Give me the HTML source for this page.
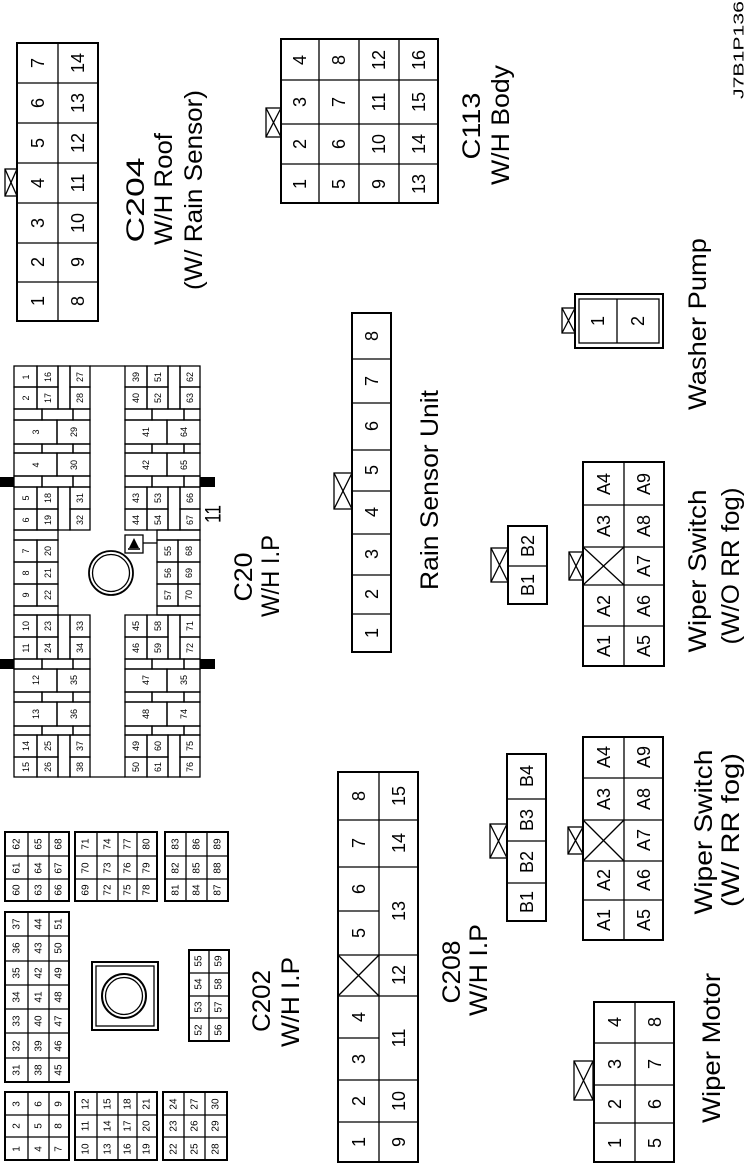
<!DOCTYPE html>
<html><head><meta charset="utf-8"><style>
html,body{margin:0;padding:0;background:#fff;width:750px;height:1163px;overflow:hidden}
svg{display:block}
rect,line,circle{fill:none;stroke:#000;stroke-width:1.3}
.o{stroke-width:2}
text{font-family:"Liberation Sans",Arial,sans-serif;text-anchor:middle;dominant-baseline:central;fill:#000}
.n{font-size:18px}
.s{font-size:9px}
.m{font-size:10px}
.l{font-size:25px}
.blk{fill:#000;stroke:none}
</style></head><body>
<svg width="750" height="1163" viewBox="0 0 750 1163" xmlns="http://www.w3.org/2000/svg">

<!-- J7B1P136 -->
<text class="n" x="739" y="50" transform="rotate(-90 739 50)" textLength="98" lengthAdjust="spacingAndGlyphs" style="font-size:15px">J7B1P136</text>

<!-- C204 -->
<rect class="o" x="17" y="43" width="81" height="278"/>
<line x1="58" y1="43" x2="58" y2="321"/>
<line x1="17" y1="83" x2="98" y2="83"/><line x1="17" y1="123" x2="98" y2="123"/><line x1="17" y1="163" x2="98" y2="163"/><line x1="17" y1="203" x2="98" y2="203"/><line x1="17" y1="243" x2="98" y2="243"/><line x1="17" y1="282" x2="98" y2="282"/>
<rect x="5" y="169" width="12" height="27"/><line x1="5" y1="169" x2="17" y2="196"/><line x1="17" y1="169" x2="5" y2="196"/>
<g class="n">
<text x="38" y="63" transform="rotate(-90 38 63)">7</text><text x="38" y="103" transform="rotate(-90 38 103)">6</text><text x="38" y="143" transform="rotate(-90 38 143)">5</text><text x="38" y="183" transform="rotate(-90 38 183)">4</text><text x="38" y="223" transform="rotate(-90 38 223)">3</text><text x="38" y="262" transform="rotate(-90 38 262)">2</text><text x="38" y="301" transform="rotate(-90 38 301)">1</text>
<text x="78" y="63" transform="rotate(-90 78 63)">14</text><text x="78" y="103" transform="rotate(-90 78 103)">13</text><text x="78" y="143" transform="rotate(-90 78 143)">12</text><text x="78" y="183" transform="rotate(-90 78 183)">11</text><text x="78" y="223" transform="rotate(-90 78 223)">10</text><text x="78" y="262" transform="rotate(-90 78 262)">9</text><text x="78" y="301" transform="rotate(-90 78 301)">8</text>
</g>
<text class="l" x="136" y="200" transform="rotate(-90 136 200)" textLength="85" lengthAdjust="spacingAndGlyphs">C204</text>
<text class="l" x="164" y="189" transform="rotate(-90 164 189)" textLength="112" lengthAdjust="spacingAndGlyphs">W/H Roof</text>
<text class="l" x="194" y="190" transform="rotate(-90 194 190)" textLength="200" lengthAdjust="spacingAndGlyphs">(W/ Rain Sensor)</text>

<!-- C113 -->
<rect class="o" x="281" y="39" width="157" height="164"/>
<line x1="319" y1="39" x2="319" y2="203"/><line x1="359" y1="39" x2="359" y2="203"/><line x1="399" y1="39" x2="399" y2="203"/>
<line x1="281" y1="80" x2="438" y2="80"/><line x1="281" y1="124" x2="438" y2="124"/><line x1="281" y1="164" x2="438" y2="164"/>
<rect x="266" y="108" width="15" height="29"/><line x1="266" y1="108" x2="281" y2="137"/><line x1="281" y1="108" x2="266" y2="137"/>
<g class="n">
<text x="300" y="60" transform="rotate(-90 300 60)">4</text><text x="300" y="102" transform="rotate(-90 300 102)">3</text><text x="300" y="144" transform="rotate(-90 300 144)">2</text><text x="300" y="184" transform="rotate(-90 300 184)">1</text>
<text x="339" y="60" transform="rotate(-90 339 60)">8</text><text x="339" y="102" transform="rotate(-90 339 102)">7</text><text x="339" y="144" transform="rotate(-90 339 144)">6</text><text x="339" y="184" transform="rotate(-90 339 184)">5</text>
<text x="379" y="60" transform="rotate(-90 379 60)">12</text><text x="379" y="102" transform="rotate(-90 379 102)">11</text><text x="379" y="144" transform="rotate(-90 379 144)">10</text><text x="379" y="184" transform="rotate(-90 379 184)">9</text>
<text x="419" y="60" transform="rotate(-90 419 60)">16</text><text x="419" y="102" transform="rotate(-90 419 102)">15</text><text x="419" y="144" transform="rotate(-90 419 144)">14</text><text x="419" y="184" transform="rotate(-90 419 184)">13</text>
</g>
<text class="l" x="472" y="126" transform="rotate(-90 472 126)" textLength="67" lengthAdjust="spacingAndGlyphs">C113</text>
<text class="l" x="501" y="125" transform="rotate(-90 501 125)" textLength="120" lengthAdjust="spacingAndGlyphs">W/H Body</text>

<!-- Rain sensor -->
<rect class="o" x="352" y="313" width="39" height="339"/>
<line x1="352" y1="359" x2="391" y2="359"/><line x1="352" y1="403" x2="391" y2="403"/><line x1="352" y1="450" x2="391" y2="450"/><line x1="352" y1="491" x2="391" y2="491"/><line x1="352" y1="534" x2="391" y2="534"/><line x1="352" y1="575" x2="391" y2="575"/><line x1="352" y1="614" x2="391" y2="614"/>
<rect x="334" y="473" width="18" height="36"/><line x1="334" y1="473" x2="352" y2="509"/><line x1="352" y1="473" x2="334" y2="509"/>
<g class="n">
<text x="372" y="336" transform="rotate(-90 372 336)">8</text><text x="372" y="381" transform="rotate(-90 372 381)">7</text><text x="372" y="426" transform="rotate(-90 372 426)">6</text><text x="372" y="470" transform="rotate(-90 372 470)">5</text><text x="372" y="512" transform="rotate(-90 372 512)">4</text><text x="372" y="554" transform="rotate(-90 372 554)">3</text><text x="372" y="594" transform="rotate(-90 372 594)">2</text><text x="372" y="633" transform="rotate(-90 372 633)">1</text>
</g>
<text class="l" x="430" y="490" transform="rotate(-90 430 490)" textLength="200" lengthAdjust="spacingAndGlyphs">Rain Sensor Unit</text>

<!-- Washer pump -->
<rect class="o" x="575" y="294" width="88" height="54"/>
<rect x="579" y="299" width="80" height="44"/>
<line x1="617" y1="299" x2="617" y2="343"/>
<rect x="562" y="308" width="13" height="25"/><line x1="562" y1="308" x2="575" y2="333"/><line x1="575" y1="308" x2="562" y2="333"/>
<text class="n" x="598" y="321" transform="rotate(-90 598 321)">1</text>
<text class="n" x="638" y="321" transform="rotate(-90 638 321)">2</text>
<text class="l" x="698" y="324" transform="rotate(-90 698 324)" textLength="172" lengthAdjust="spacingAndGlyphs">Washer Pump</text>

<!-- B1 B2 -->
<rect class="o" x="508" y="526" width="39" height="78"/>
<line x1="508" y1="566" x2="547" y2="566"/>
<rect x="491" y="548" width="17" height="34"/><line x1="491" y1="548" x2="508" y2="582"/><line x1="508" y1="548" x2="491" y2="582"/>
<text class="n" x="528" y="546" transform="rotate(-90 528 546)">B2</text>
<text class="n" x="528" y="585" transform="rotate(-90 528 585)">B1</text>

<!-- Wiper switch W/O -->
<rect class="o" x="583" y="462" width="81" height="204"/>
<line x1="624" y1="462" x2="624" y2="666"/>
<line x1="583" y1="505" x2="664" y2="505"/><line x1="583" y1="547" x2="664" y2="547"/><line x1="583" y1="585" x2="664" y2="585"/><line x1="583" y1="626" x2="664" y2="626"/>
<line x1="583" y1="547" x2="624" y2="585"/><line x1="624" y1="547" x2="583" y2="585"/>
<rect x="569" y="552" width="14" height="28"/><line x1="569" y1="552" x2="583" y2="580"/><line x1="583" y1="552" x2="569" y2="580"/>
<g class="n">
<text x="604" y="484" transform="rotate(-90 604 484)">A4</text><text x="604" y="526" transform="rotate(-90 604 526)">A3</text><text x="604" y="606" transform="rotate(-90 604 606)">A2</text><text x="604" y="646" transform="rotate(-90 604 646)">A1</text>
<text x="644" y="484" transform="rotate(-90 644 484)">A9</text><text x="644" y="526" transform="rotate(-90 644 526)">A8</text><text x="644" y="566" transform="rotate(-90 644 566)">A7</text><text x="644" y="606" transform="rotate(-90 644 606)">A6</text><text x="644" y="646" transform="rotate(-90 644 646)">A5</text>
</g>
<text class="l" x="698" y="571" transform="rotate(-90 698 571)" textLength="163" lengthAdjust="spacingAndGlyphs">Wiper Switch</text>
<text class="l" x="731" y="566" transform="rotate(-90 731 566)" textLength="157" lengthAdjust="spacingAndGlyphs">(W/O RR fog)</text>

<!-- B1-B4 -->
<rect class="o" x="507" y="754" width="39" height="167"/>
<line x1="507" y1="799" x2="546" y2="799"/><line x1="507" y1="841" x2="546" y2="841"/><line x1="507" y1="883" x2="546" y2="883"/>
<rect x="490" y="824" width="17" height="34"/><line x1="490" y1="824" x2="507" y2="858"/><line x1="507" y1="824" x2="490" y2="858"/>
<g class="n">
<text x="527" y="776" transform="rotate(-90 527 776)">B4</text><text x="527" y="820" transform="rotate(-90 527 820)">B3</text><text x="527" y="862" transform="rotate(-90 527 862)">B2</text><text x="527" y="902" transform="rotate(-90 527 902)">B1</text>
</g>

<!-- Wiper switch W/ -->
<rect class="o" x="583" y="737" width="80" height="203"/>
<line x1="624" y1="737" x2="624" y2="940"/>
<line x1="583" y1="778" x2="663" y2="778"/><line x1="583" y1="820" x2="663" y2="820"/><line x1="583" y1="861" x2="663" y2="861"/><line x1="583" y1="900" x2="663" y2="900"/>
<line x1="583" y1="820" x2="624" y2="861"/><line x1="624" y1="820" x2="583" y2="861"/>
<rect x="568" y="827" width="15" height="27"/><line x1="568" y1="827" x2="583" y2="854"/><line x1="583" y1="827" x2="568" y2="854"/>
<g class="n">
<text x="604" y="757" transform="rotate(-90 604 757)">A4</text><text x="604" y="799" transform="rotate(-90 604 799)">A3</text><text x="604" y="880" transform="rotate(-90 604 880)">A2</text><text x="604" y="920" transform="rotate(-90 604 920)">A1</text>
<text x="644" y="757" transform="rotate(-90 644 757)">A9</text><text x="644" y="799" transform="rotate(-90 644 799)">A8</text><text x="644" y="840" transform="rotate(-90 644 840)">A7</text><text x="644" y="880" transform="rotate(-90 644 880)">A6</text><text x="644" y="920" transform="rotate(-90 644 920)">A5</text>
</g>
<text class="l" x="704" y="832" transform="rotate(-90 704 832)" textLength="165" lengthAdjust="spacingAndGlyphs">Wiper Switch</text>
<text class="l" x="731" y="830" transform="rotate(-90 731 830)" textLength="154" lengthAdjust="spacingAndGlyphs">(W/ RR fog)</text>

<!-- C208 -->
<rect class="o" x="338" y="772" width="80" height="390"/>
<line x1="379" y1="772" x2="379" y2="1162"/>
<line x1="338" y1="820" x2="418" y2="820"/><line x1="338" y1="867" x2="418" y2="867"/>
<line x1="338" y1="911" x2="379" y2="911"/>
<line x1="338" y1="955" x2="418" y2="955"/><line x1="338" y1="996" x2="418" y2="996"/>
<line x1="338" y1="1038" x2="379" y2="1038"/>
<line x1="338" y1="1080" x2="418" y2="1080"/><line x1="338" y1="1122" x2="418" y2="1122"/>
<line x1="338" y1="955" x2="379" y2="996"/><line x1="379" y1="955" x2="338" y2="996"/>
<g class="n">
<text x="359" y="796" transform="rotate(-90 359 796)">8</text><text x="359" y="843" transform="rotate(-90 359 843)">7</text><text x="359" y="889" transform="rotate(-90 359 889)">6</text><text x="359" y="933" transform="rotate(-90 359 933)">5</text><text x="359" y="1017" transform="rotate(-90 359 1017)">4</text><text x="359" y="1059" transform="rotate(-90 359 1059)">3</text><text x="359" y="1101" transform="rotate(-90 359 1101)">2</text><text x="359" y="1142" transform="rotate(-90 359 1142)">1</text>
<text x="399" y="796" transform="rotate(-90 399 796)">15</text><text x="399" y="843" transform="rotate(-90 399 843)">14</text><text x="399" y="911" transform="rotate(-90 399 911)">13</text><text x="399" y="975" transform="rotate(-90 399 975)">12</text><text x="399" y="1038" transform="rotate(-90 399 1038)">11</text><text x="399" y="1101" transform="rotate(-90 399 1101)">10</text><text x="399" y="1142" transform="rotate(-90 399 1142)">9</text>
</g>
<text class="l" x="452" y="972" transform="rotate(-90 452 972)" textLength="63" lengthAdjust="spacingAndGlyphs">C208</text>
<text class="l" x="479" y="970" transform="rotate(-90 479 970)" textLength="92" lengthAdjust="spacingAndGlyphs">W/H I.P</text>

<!-- Wiper motor -->
<rect class="o" x="594" y="1002" width="80" height="160"/>
<line x1="635" y1="1002" x2="635" y2="1162"/>
<line x1="594" y1="1043" x2="674" y2="1043"/><line x1="594" y1="1085" x2="674" y2="1085"/><line x1="594" y1="1123" x2="674" y2="1123"/>
<rect x="574" y="1061" width="19" height="39"/><line x1="574" y1="1061" x2="593" y2="1100"/><line x1="593" y1="1061" x2="574" y2="1100"/>
<g class="n">
<text x="615" y="1022" transform="rotate(-90 615 1022)">4</text><text x="615" y="1064" transform="rotate(-90 615 1064)">3</text><text x="615" y="1104" transform="rotate(-90 615 1104)">2</text><text x="615" y="1143" transform="rotate(-90 615 1143)">1</text>
<text x="655" y="1022" transform="rotate(-90 655 1022)">8</text><text x="655" y="1064" transform="rotate(-90 655 1064)">7</text><text x="655" y="1104" transform="rotate(-90 655 1104)">6</text><text x="655" y="1143" transform="rotate(-90 655 1143)">5</text>
</g>
<text class="l" x="712" y="1048" transform="rotate(-90 712 1048)" textLength="150" lengthAdjust="spacingAndGlyphs">Wiper Motor</text>

<!-- C202 -->
<g>
<rect class="o" x="5" y="832" width="64" height="69"/><line x1="28" y1="832" x2="28" y2="901"/><line x1="49" y1="832" x2="49" y2="901"/><line x1="5" y1="856" x2="69" y2="856"/><line x1="5" y1="879" x2="69" y2="879"/>
<rect class="o" x="75" y="832" width="82" height="69"/><line x1="97" y1="832" x2="97" y2="901"/><line x1="118" y1="832" x2="118" y2="901"/><line x1="137" y1="832" x2="137" y2="901"/><line x1="75" y1="856" x2="157" y2="856"/><line x1="75" y1="879" x2="157" y2="879"/>
<rect class="o" x="165" y="832" width="63" height="69"/><line x1="186" y1="832" x2="186" y2="901"/><line x1="207" y1="832" x2="207" y2="901"/><line x1="165" y1="856" x2="228" y2="856"/><line x1="165" y1="879" x2="228" y2="879"/>
<rect class="o" x="5" y="912" width="64" height="170"/><line x1="28" y1="912" x2="28" y2="1082"/><line x1="49" y1="912" x2="49" y2="1082"/>
<line x1="5" y1="936" x2="69" y2="936"/><line x1="5" y1="961" x2="69" y2="961"/><line x1="5" y1="985" x2="69" y2="985"/><line x1="5" y1="1009" x2="69" y2="1009"/><line x1="5" y1="1033" x2="69" y2="1033"/><line x1="5" y1="1058" x2="69" y2="1058"/>
<rect class="o" x="5" y="1092" width="64" height="68"/><line x1="28" y1="1092" x2="28" y2="1160"/><line x1="49" y1="1092" x2="49" y2="1160"/><line x1="5" y1="1115" x2="69" y2="1115"/><line x1="5" y1="1137" x2="69" y2="1137"/>
<rect class="o" x="75" y="1092" width="82" height="68"/><line x1="97" y1="1092" x2="97" y2="1160"/><line x1="118" y1="1092" x2="118" y2="1160"/><line x1="137" y1="1092" x2="137" y2="1160"/><line x1="75" y1="1115" x2="157" y2="1115"/><line x1="75" y1="1137" x2="157" y2="1137"/>
<rect class="o" x="163" y="1092" width="64" height="68"/><line x1="184" y1="1092" x2="184" y2="1160"/><line x1="205" y1="1092" x2="205" y2="1160"/><line x1="163" y1="1115" x2="227" y2="1115"/><line x1="163" y1="1137" x2="227" y2="1137"/>
<rect class="o" x="189" y="950" width="40" height="91"/><line x1="209" y1="950" x2="209" y2="1041"/><line x1="189" y1="973" x2="229" y2="973"/><line x1="189" y1="996" x2="229" y2="996"/><line x1="189" y1="1018" x2="229" y2="1018"/>
<rect class="o" x="92" y="962" width="66" height="68"/><rect x="96" y="966" width="58" height="60"/>
<circle cx="124" cy="996" r="22" style="stroke-width:2"/><circle cx="124" cy="996" r="18.5"/>
</g>
<g class="m">
<text x="17" y="844" transform="rotate(-90 17 844)">62</text><text x="17" y="868" transform="rotate(-90 17 868)">61</text><text x="17" y="890" transform="rotate(-90 17 890)">60</text>
<text x="39" y="844" transform="rotate(-90 39 844)">65</text><text x="39" y="868" transform="rotate(-90 39 868)">64</text><text x="39" y="890" transform="rotate(-90 39 890)">63</text>
<text x="59" y="844" transform="rotate(-90 59 844)">68</text><text x="59" y="868" transform="rotate(-90 59 868)">67</text><text x="59" y="890" transform="rotate(-90 59 890)">66</text>
<text x="86" y="844" transform="rotate(-90 86 844)">71</text><text x="86" y="868" transform="rotate(-90 86 868)">70</text><text x="86" y="890" transform="rotate(-90 86 890)">69</text>
<text x="108" y="844" transform="rotate(-90 108 844)">74</text><text x="108" y="868" transform="rotate(-90 108 868)">73</text><text x="108" y="890" transform="rotate(-90 108 890)">72</text>
<text x="128" y="844" transform="rotate(-90 128 844)">77</text><text x="128" y="868" transform="rotate(-90 128 868)">76</text><text x="128" y="890" transform="rotate(-90 128 890)">75</text>
<text x="147" y="844" transform="rotate(-90 147 844)">80</text><text x="147" y="868" transform="rotate(-90 147 868)">79</text><text x="147" y="890" transform="rotate(-90 147 890)">78</text>
<text x="176" y="844" transform="rotate(-90 176 844)">83</text><text x="176" y="868" transform="rotate(-90 176 868)">82</text><text x="176" y="890" transform="rotate(-90 176 890)">81</text>
<text x="197" y="844" transform="rotate(-90 197 844)">86</text><text x="197" y="868" transform="rotate(-90 197 868)">85</text><text x="197" y="890" transform="rotate(-90 197 890)">84</text>
<text x="218" y="844" transform="rotate(-90 218 844)">89</text><text x="218" y="868" transform="rotate(-90 218 868)">88</text><text x="218" y="890" transform="rotate(-90 218 890)">87</text>

<text x="17" y="924" transform="rotate(-90 17 924)">37</text><text x="17" y="948" transform="rotate(-90 17 948)">36</text><text x="17" y="973" transform="rotate(-90 17 973)">35</text><text x="17" y="997" transform="rotate(-90 17 997)">34</text><text x="17" y="1021" transform="rotate(-90 17 1021)">33</text><text x="17" y="1046" transform="rotate(-90 17 1046)">32</text><text x="17" y="1070" transform="rotate(-90 17 1070)">31</text>
<text x="39" y="924" transform="rotate(-90 39 924)">44</text><text x="39" y="948" transform="rotate(-90 39 948)">43</text><text x="39" y="973" transform="rotate(-90 39 973)">42</text><text x="39" y="997" transform="rotate(-90 39 997)">41</text><text x="39" y="1021" transform="rotate(-90 39 1021)">40</text><text x="39" y="1046" transform="rotate(-90 39 1046)">39</text><text x="39" y="1070" transform="rotate(-90 39 1070)">38</text>
<text x="59" y="924" transform="rotate(-90 59 924)">51</text><text x="59" y="948" transform="rotate(-90 59 948)">50</text><text x="59" y="973" transform="rotate(-90 59 973)">49</text><text x="59" y="997" transform="rotate(-90 59 997)">48</text><text x="59" y="1021" transform="rotate(-90 59 1021)">47</text><text x="59" y="1046" transform="rotate(-90 59 1046)">46</text><text x="59" y="1070" transform="rotate(-90 59 1070)">45</text>

<text x="199" y="961" transform="rotate(-90 199 961)">55</text><text x="199" y="984" transform="rotate(-90 199 984)">54</text><text x="199" y="1007" transform="rotate(-90 199 1007)">53</text><text x="199" y="1030" transform="rotate(-90 199 1030)">52</text>
<text x="219" y="961" transform="rotate(-90 219 961)">59</text><text x="219" y="984" transform="rotate(-90 219 984)">58</text><text x="219" y="1007" transform="rotate(-90 219 1007)">57</text><text x="219" y="1030" transform="rotate(-90 219 1030)">56</text>

<text x="17" y="1104" transform="rotate(-90 17 1104)">3</text><text x="17" y="1126" transform="rotate(-90 17 1126)">2</text><text x="17" y="1149" transform="rotate(-90 17 1149)">1</text>
<text x="39" y="1104" transform="rotate(-90 39 1104)">6</text><text x="39" y="1126" transform="rotate(-90 39 1126)">5</text><text x="39" y="1149" transform="rotate(-90 39 1149)">4</text>
<text x="59" y="1104" transform="rotate(-90 59 1104)">9</text><text x="59" y="1126" transform="rotate(-90 59 1126)">8</text><text x="59" y="1149" transform="rotate(-90 59 1149)">7</text>
<text x="86" y="1104" transform="rotate(-90 86 1104)">12</text><text x="86" y="1126" transform="rotate(-90 86 1126)">11</text><text x="86" y="1149" transform="rotate(-90 86 1149)">10</text>
<text x="108" y="1104" transform="rotate(-90 108 1104)">15</text><text x="108" y="1126" transform="rotate(-90 108 1126)">14</text><text x="108" y="1149" transform="rotate(-90 108 1149)">13</text>
<text x="128" y="1104" transform="rotate(-90 128 1104)">18</text><text x="128" y="1126" transform="rotate(-90 128 1126)">17</text><text x="128" y="1149" transform="rotate(-90 128 1149)">16</text>
<text x="147" y="1104" transform="rotate(-90 147 1104)">21</text><text x="147" y="1126" transform="rotate(-90 147 1126)">20</text><text x="147" y="1149" transform="rotate(-90 147 1149)">19</text>
<text x="174" y="1104" transform="rotate(-90 174 1104)">24</text><text x="174" y="1126" transform="rotate(-90 174 1126)">23</text><text x="174" y="1149" transform="rotate(-90 174 1149)">22</text>
<text x="195" y="1104" transform="rotate(-90 195 1104)">27</text><text x="195" y="1126" transform="rotate(-90 195 1126)">26</text><text x="195" y="1149" transform="rotate(-90 195 1149)">25</text>
<text x="216" y="1104" transform="rotate(-90 216 1104)">30</text><text x="216" y="1126" transform="rotate(-90 216 1126)">29</text><text x="216" y="1149" transform="rotate(-90 216 1149)">28</text>
</g>
<text class="l" x="262" y="1001" transform="rotate(-90 262 1001)" textLength="62" lengthAdjust="spacingAndGlyphs">C202</text>
<text class="l" x="291" y="1002" transform="rotate(-90 291 1002)" textLength="90" lengthAdjust="spacingAndGlyphs">W/H I.P</text>

<!-- C20 -->
<g>
<!-- channel top/bottom -->
<line x1="90" y1="366" x2="125" y2="366"/><line x1="90" y1="777" x2="125" y2="777"/>
<!-- left block -->
<rect x="14" y="366" width="23" height="21"/><rect x="37" y="366" width="21" height="21"/><rect x="58" y="366" width="12" height="43"/><rect x="70" y="366" width="20" height="21"/>
<rect x="14" y="387" width="23" height="22"/><rect x="37" y="387" width="21" height="22"/><rect x="70" y="387" width="20" height="22"/>
<rect x="14" y="409" width="28" height="11"/><rect x="42" y="409" width="31" height="11"/><rect x="73" y="409" width="17" height="11"/>
<rect x="14" y="420" width="43" height="24"/><rect x="57" y="420" width="33" height="24"/>
<rect x="14" y="444" width="28" height="9"/><rect x="42" y="444" width="31" height="9"/><rect x="73" y="444" width="17" height="9"/>
<rect x="14" y="453" width="43" height="23"/><rect x="57" y="453" width="33" height="23"/>
<rect x="14" y="476" width="28" height="11"/><rect x="42" y="476" width="31" height="11"/><rect x="73" y="476" width="17" height="11"/>
<rect x="14" y="487" width="23" height="22"/><rect x="37" y="487" width="21" height="22"/><rect x="58" y="487" width="12" height="43"/><rect x="70" y="487" width="20" height="22"/>
<rect x="14" y="509" width="23" height="21"/><rect x="37" y="509" width="21" height="21"/><rect x="70" y="509" width="20" height="21"/>
<rect x="14" y="530" width="44" height="10"/>
<rect x="14" y="540" width="23" height="22"/><rect x="37" y="540" width="21" height="22"/>
<rect x="14" y="562" width="23" height="22"/><rect x="37" y="562" width="21" height="22"/>
<rect x="14" y="584" width="23" height="22"/><rect x="37" y="584" width="21" height="22"/>
<rect x="14" y="606" width="44" height="9"/>
<rect x="14" y="615" width="23" height="22"/><rect x="37" y="615" width="21" height="22"/><rect x="58" y="615" width="12" height="44"/><rect x="70" y="615" width="20" height="22"/>
<rect x="14" y="637" width="23" height="22"/><rect x="37" y="637" width="21" height="22"/><rect x="70" y="637" width="20" height="22"/>
<rect x="14" y="659" width="28" height="10"/><rect x="42" y="659" width="31" height="10"/><rect x="73" y="659" width="17" height="10"/>
<rect x="14" y="669" width="43" height="23"/><rect x="57" y="669" width="33" height="23"/>
<rect x="14" y="692" width="28" height="10"/><rect x="42" y="692" width="31" height="10"/><rect x="73" y="692" width="17" height="10"/>
<rect x="14" y="702" width="43" height="24"/><rect x="57" y="702" width="33" height="24"/>
<rect x="14" y="726" width="28" height="9"/><rect x="42" y="726" width="31" height="9"/><rect x="73" y="726" width="17" height="9"/>
<rect x="14" y="735" width="23" height="22"/><rect x="37" y="735" width="21" height="22"/><rect x="58" y="735" width="12" height="42"/><rect x="70" y="735" width="20" height="22"/>
<rect x="14" y="757" width="23" height="20"/><rect x="37" y="757" width="21" height="20"/><rect x="70" y="757" width="20" height="20"/>
<!-- right block -->
<rect x="125" y="366" width="22" height="21"/><rect x="147" y="366" width="21" height="21"/><rect x="168" y="366" width="12" height="43"/><rect x="180" y="366" width="20" height="21"/>
<rect x="125" y="387" width="22" height="22"/><rect x="147" y="387" width="21" height="22"/><rect x="180" y="387" width="20" height="22"/>
<rect x="125" y="409" width="27" height="11"/><rect x="152" y="409" width="32" height="11"/><rect x="184" y="409" width="16" height="11"/>
<rect x="125" y="420" width="42" height="24"/><rect x="167" y="420" width="33" height="24"/>
<rect x="125" y="444" width="27" height="9"/><rect x="152" y="444" width="32" height="9"/><rect x="184" y="444" width="16" height="9"/>
<rect x="125" y="453" width="42" height="23"/><rect x="167" y="453" width="33" height="23"/>
<rect x="125" y="476" width="27" height="11"/><rect x="152" y="476" width="32" height="11"/><rect x="184" y="476" width="16" height="11"/>
<rect x="125" y="487" width="22" height="22"/><rect x="147" y="487" width="21" height="22"/><rect x="168" y="487" width="12" height="43"/><rect x="180" y="487" width="20" height="22"/>
<rect x="125" y="509" width="22" height="21"/><rect x="147" y="509" width="21" height="21"/><rect x="180" y="509" width="20" height="21"/>
<rect x="157" y="530" width="43" height="10"/>
<rect x="157" y="540" width="21" height="22"/><rect x="178" y="540" width="22" height="22"/>
<rect x="157" y="562" width="21" height="22"/><rect x="178" y="562" width="22" height="22"/>
<rect x="157" y="584" width="21" height="22"/><rect x="178" y="584" width="22" height="22"/>
<rect x="157" y="606" width="43" height="9"/>
<rect x="125" y="535" width="18" height="18"/><line x1="143" y1="543" x2="157" y2="543"/>
<polygon points="134,538 129,548 139,548" style="fill:#000"/><line x1="128" y1="549" x2="140" y2="549" style="stroke-width:1.6"/>
<rect x="125" y="615" width="22" height="22"/><rect x="147" y="615" width="21" height="22"/><rect x="168" y="615" width="12" height="44"/><rect x="180" y="615" width="20" height="22"/>
<rect x="125" y="637" width="22" height="22"/><rect x="147" y="637" width="21" height="22"/><rect x="180" y="637" width="20" height="22"/>
<rect x="125" y="659" width="27" height="10"/><rect x="152" y="659" width="32" height="10"/><rect x="184" y="659" width="16" height="10"/>
<rect x="125" y="669" width="42" height="23"/><rect x="167" y="669" width="33" height="23"/>
<rect x="125" y="692" width="27" height="10"/><rect x="152" y="692" width="32" height="10"/><rect x="184" y="692" width="16" height="10"/>
<rect x="125" y="702" width="42" height="24"/><rect x="167" y="702" width="33" height="24"/>
<rect x="125" y="726" width="27" height="9"/><rect x="152" y="726" width="32" height="9"/><rect x="184" y="726" width="16" height="9"/>
<rect x="125" y="735" width="22" height="22"/><rect x="147" y="735" width="21" height="22"/><rect x="168" y="735" width="12" height="42"/><rect x="180" y="735" width="20" height="22"/>
<rect x="125" y="757" width="22" height="20"/><rect x="147" y="757" width="21" height="20"/><rect x="180" y="757" width="20" height="20"/>
<!-- tabs -->
<rect class="blk" x="0" y="477" width="14" height="10"/><rect class="blk" x="0" y="659" width="14" height="10"/>
<rect class="blk" x="200" y="477" width="15" height="10"/><rect class="blk" x="200" y="659" width="15" height="10"/>
<circle cx="111" cy="573" r="22" style="stroke-width:1.8"/><circle cx="111" cy="573" r="18.5"/>
</g>
<g class="s">
<text x="26" y="377" transform="rotate(-90 26 377)">1</text><text x="48" y="377" transform="rotate(-90 48 377)">16</text><text x="80" y="377" transform="rotate(-90 80 377)">27</text>
<text x="26" y="398" transform="rotate(-90 26 398)">2</text><text x="48" y="398" transform="rotate(-90 48 398)">17</text><text x="80" y="398" transform="rotate(-90 80 398)">28</text>
<text x="36" y="432" transform="rotate(-90 36 432)">3</text><text x="74" y="432" transform="rotate(-90 74 432)">29</text>
<text x="36" y="465" transform="rotate(-90 36 465)">4</text><text x="74" y="465" transform="rotate(-90 74 465)">30</text>
<text x="26" y="498" transform="rotate(-90 26 498)">5</text><text x="48" y="498" transform="rotate(-90 48 498)">18</text><text x="80" y="498" transform="rotate(-90 80 498)">31</text>
<text x="26" y="520" transform="rotate(-90 26 520)">6</text><text x="48" y="520" transform="rotate(-90 48 520)">19</text><text x="80" y="520" transform="rotate(-90 80 520)">32</text>
<text x="26" y="551" transform="rotate(-90 26 551)">7</text><text x="48" y="551" transform="rotate(-90 48 551)">20</text>
<text x="26" y="573" transform="rotate(-90 26 573)">8</text><text x="48" y="573" transform="rotate(-90 48 573)">21</text>
<text x="26" y="595" transform="rotate(-90 26 595)">9</text><text x="48" y="595" transform="rotate(-90 48 595)">22</text>
<text x="26" y="626" transform="rotate(-90 26 626)">10</text><text x="48" y="626" transform="rotate(-90 48 626)">23</text><text x="80" y="626" transform="rotate(-90 80 626)">33</text>
<text x="26" y="648" transform="rotate(-90 26 648)">11</text><text x="48" y="648" transform="rotate(-90 48 648)">24</text><text x="80" y="648" transform="rotate(-90 80 648)">34</text>
<text x="36" y="680" transform="rotate(-90 36 680)">12</text><text x="74" y="680" transform="rotate(-90 74 680)">35</text>
<text x="36" y="714" transform="rotate(-90 36 714)">13</text><text x="74" y="714" transform="rotate(-90 74 714)">36</text>
<text x="26" y="746" transform="rotate(-90 26 746)">14</text><text x="48" y="746" transform="rotate(-90 48 746)">25</text><text x="80" y="746" transform="rotate(-90 80 746)">37</text>
<text x="26" y="767" transform="rotate(-90 26 767)">15</text><text x="48" y="767" transform="rotate(-90 48 767)">26</text><text x="80" y="767" transform="rotate(-90 80 767)">38</text>

<text x="136" y="377" transform="rotate(-90 136 377)">39</text><text x="158" y="377" transform="rotate(-90 158 377)">51</text><text x="190" y="377" transform="rotate(-90 190 377)">62</text>
<text x="136" y="398" transform="rotate(-90 136 398)">40</text><text x="158" y="398" transform="rotate(-90 158 398)">52</text><text x="190" y="398" transform="rotate(-90 190 398)">63</text>
<text x="146" y="432" transform="rotate(-90 146 432)">41</text><text x="184" y="432" transform="rotate(-90 184 432)">64</text>
<text x="146" y="465" transform="rotate(-90 146 465)">42</text><text x="184" y="465" transform="rotate(-90 184 465)">65</text>
<text x="136" y="498" transform="rotate(-90 136 498)">43</text><text x="158" y="498" transform="rotate(-90 158 498)">53</text><text x="190" y="498" transform="rotate(-90 190 498)">66</text>
<text x="136" y="520" transform="rotate(-90 136 520)">44</text><text x="158" y="520" transform="rotate(-90 158 520)">54</text><text x="190" y="520" transform="rotate(-90 190 520)">67</text>
<text x="168" y="551" transform="rotate(-90 168 551)">55</text><text x="189" y="551" transform="rotate(-90 189 551)">68</text>
<text x="168" y="573" transform="rotate(-90 168 573)">56</text><text x="189" y="573" transform="rotate(-90 189 573)">69</text>
<text x="168" y="595" transform="rotate(-90 168 595)">57</text><text x="189" y="595" transform="rotate(-90 189 595)">70</text>
<text x="136" y="626" transform="rotate(-90 136 626)">45</text><text x="158" y="626" transform="rotate(-90 158 626)">58</text><text x="190" y="626" transform="rotate(-90 190 626)">71</text>
<text x="136" y="648" transform="rotate(-90 136 648)">46</text><text x="158" y="648" transform="rotate(-90 158 648)">59</text><text x="190" y="648" transform="rotate(-90 190 648)">72</text>
<text x="146" y="680" transform="rotate(-90 146 680)">47</text><text x="184" y="680" transform="rotate(-90 184 680)">35</text>
<text x="146" y="714" transform="rotate(-90 146 714)">48</text><text x="184" y="714" transform="rotate(-90 184 714)">74</text>
<text x="136" y="746" transform="rotate(-90 136 746)">49</text><text x="158" y="746" transform="rotate(-90 158 746)">60</text><text x="190" y="746" transform="rotate(-90 190 746)">75</text>
<text x="136" y="767" transform="rotate(-90 136 767)">50</text><text x="158" y="767" transform="rotate(-90 158 767)">61</text><text x="190" y="767" transform="rotate(-90 190 767)">76</text>
</g>
<text x="213" y="514" transform="rotate(-90 213 514)" style="font-size:22px" textLength="18" lengthAdjust="spacingAndGlyphs">11</text>
<text class="l" x="244" y="577" transform="rotate(-90 244 577)" textLength="49" lengthAdjust="spacingAndGlyphs">C20</text>
<text class="l" x="271" y="576" transform="rotate(-90 271 576)" textLength="82" lengthAdjust="spacingAndGlyphs">W/H I.P</text>

</svg>
</body></html>
